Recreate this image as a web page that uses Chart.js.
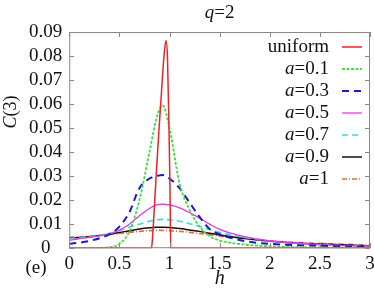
<!DOCTYPE html>
<html>
<head>
<meta charset="utf-8">
<script src="https://cdn.jsdelivr.net/npm/chart.js@4/dist/chart.umd.min.js"></script>
<style>
  html, body { margin: 0; padding: 0; background: #fff; }
  #wrap { width: 374px; height: 297px; }
</style>
</head>
<body>
<div id="wrap"><canvas id="c"></canvas></div>
<script>
// données
const hUniform = [0, 0.82, 0.83, 0.86, 0.89, 0.92, 0.945, 0.965, 0.98, 0.995, 1.005, 1.012, 3];
const cUniform = [0, 0, 0.004, 0.025, 0.046, 0.065, 0.080, 0.0865, 0.079, 0.050, 0.025, 0, 0];

const hGrid = [0, 0.2, 0.4, 0.5, 0.6, 0.7, 0.8, 0.87, 0.93, 1.0, 1.1, 1.2, 1.3, 1.4, 1.5, 1.75, 2, 2.5, 3];
const cA01 = [0, 0, 0.0004, 0.0018, 0.007, 0.020, 0.040, 0.054, 0.0595, 0.050, 0.027, 0.016, 0.009, 0.005, 0.0032, 0.0015, 0.0008, 0.0003, 0.0001];
const cA03 = [0.0018, 0.003, 0.0058, 0.009, 0.015, 0.025, 0.029, 0.030, 0.0305, 0.029, 0.025, 0.019, 0.013, 0.008, 0.0058, 0.003, 0.0018, 0.001, 0.0005];
const cA05 = [0.0033, 0.0045, 0.006, 0.0075, 0.010, 0.0135, 0.0165, 0.018, 0.0183, 0.018, 0.0168, 0.0148, 0.0125, 0.010, 0.0078, 0.0048, 0.003, 0.0015, 0.0008];
const cA07 = [0.004, 0.0048, 0.0062, 0.0072, 0.0088, 0.010, 0.0112, 0.0118, 0.012, 0.0118, 0.0112, 0.0102, 0.009, 0.0078, 0.0066, 0.0045, 0.003, 0.0015, 0.0008];
const cA09 = [0.0042, 0.0048, 0.0058, 0.0065, 0.0073, 0.008, 0.0085, 0.0087, 0.0087, 0.0086, 0.0082, 0.0076, 0.007, 0.0062, 0.0055, 0.004, 0.0029, 0.0017, 0.001];
const cA1 = [0.0045, 0.005, 0.0057, 0.0061, 0.0066, 0.007, 0.0073, 0.0074, 0.0074, 0.0073, 0.007, 0.0066, 0.0061, 0.0056, 0.005, 0.004, 0.003, 0.002, 0.0013];

const legendNames = ['uniform', '0.1', '0.3', '0.5', '0.7', '0.9', '1'];
const xTicks = [0, 0.5, 1, 1.5, 2, 2.5, 3];

const serif = '"Liberation Serif", "DejaVu Serif", serif';

function pts(xs, ys) {
    return xs.map((x, i) => ({ x: x, y: ys[i] }));
}

function serie(xs, ys, color, dash, width) {
    return {
        data: pts(xs, ys),
        borderColor: color,
        borderDash: dash,
        borderWidth: width,
        pointRadius: 0,
        fill: false,
        cubicInterpolationMode: 'monotone'
    };
}

const datasets = [
    serie(hUniform, cUniform, '#ee2222', [], 1.5),
    serie(hGrid, cA01, '#44dd44', [3, 1.5], 1.8),
    serie(hGrid, cA03, '#1a1acc', [7, 5], 2),
    serie(hGrid, cA05, '#ee33ee', [], 1.3),
    serie(hGrid, cA07, '#33dddd', [6, 4], 1.6),
    serie(hGrid, cA09, '#111111', [], 1.5),
    serie(hGrid, cA1, '#ee6633', [5, 2, 1, 2], 1.6)
];

// cadre, graduations vers l'intérieur, légende et textes
const decor = {
    id: 'decor',
    afterDatasetsDraw(chart) {
        const ctx = chart.ctx;
        const a = chart.chartArea;
        const xs = chart.scales.x, ys = chart.scales.y;
        ctx.save();
        ctx.strokeStyle = '#888';
        ctx.lineWidth = 1;
        ctx.strokeRect(a.left + 0.5, a.top + 0.5, a.right - a.left - 1, a.bottom - a.top - 1);
        ctx.beginPath();
        xTicks.forEach(v => {
            const px = Math.round(xs.getPixelForValue(v)) + 0.5;
            ctx.moveTo(px, a.bottom); ctx.lineTo(px, a.bottom - 5);
            ctx.moveTo(px, a.top); ctx.lineTo(px, a.top + 5);
        });
        ys.ticks.forEach(t => {
            const py = Math.round(ys.getPixelForValue(t.value)) + 0.5;
            ctx.moveTo(a.left, py); ctx.lineTo(a.left + 5, py);
            ctx.moveTo(a.right, py); ctx.lineTo(a.right - 5, py);
        });
        ctx.stroke();

        // légende
        ctx.textBaseline = 'middle';
        chart.data.datasets.forEach((ds, i) => {
            const y = a.top + 15 + i * 22;
            const xr = a.right - 41;
            ctx.fillStyle = '#111';
            if (i === 0) {
                ctx.font = '19px ' + serif;
                ctx.textAlign = 'right';
                ctx.fillText(legendNames[0], xr, y);
            } else {
                ctx.font = '19px ' + serif;
                const rest = '=' + legendNames[i];
                const w = ctx.measureText(rest).width;
                ctx.textAlign = 'right';
                ctx.fillText(rest, xr, y);
                ctx.font = 'italic 19px ' + serif;
                ctx.fillText('a', xr - w, y);
            }
            ctx.beginPath();
            ctx.strokeStyle = ds.borderColor;
            ctx.lineWidth = ds.borderWidth;
            ctx.setLineDash(ds.borderDash || []);
            ctx.moveTo(a.right - 28, y);
            ctx.lineTo(a.right - 8, y);
            ctx.stroke();
            ctx.setLineDash([]);
        });

        // titre q=2
        ctx.fillStyle = '#111';
        ctx.textAlign = 'left';
        ctx.font = 'italic 19px ' + serif;
        const wq = ctx.measureText('q').width;
        ctx.font = '19px ' + serif;
        const w2 = ctx.measureText('=2').width;
        const tx = (a.left + a.right) / 2 - (wq + w2) / 2;
        ctx.font = 'italic 19px ' + serif;
        ctx.fillText('q', tx, 13);
        ctx.font = '19px ' + serif;
        ctx.fillText('=2', tx + wq, 13);

        // axe h
        ctx.textAlign = 'center';
        ctx.font = 'italic 20px ' + serif;
        ctx.fillText('h', (a.left + a.right) / 2, 279);

        // (e)
        ctx.font = '19px ' + serif;
        ctx.fillText('(e)', 36, 268);

        // C(3)
        ctx.translate(11, 112);
        ctx.rotate(-Math.PI / 2);
        ctx.font = 'italic 18px ' + serif;
        const wc = ctx.measureText('C').width;
        ctx.font = '18px ' + serif;
        const w3 = ctx.measureText('(3)').width;
        ctx.textAlign = 'left';
        ctx.font = 'italic 18px ' + serif;
        ctx.fillText('C', -(wc + w3) / 2, 0);
        ctx.font = '18px ' + serif;
        ctx.fillText('(3)', -(wc + w3) / 2 + wc, 0);
        ctx.restore();
    }
};

new Chart(document.getElementById('c'), {
    type: 'line',
    data: { datasets: datasets },
    plugins: [decor],
    options: {
        responsive: true,
        maintainAspectRatio: false,
        animation: false,
        layout: { padding: { left: 22, top: 32, right: 4, bottom: 18 } },
        plugins: { legend: { display: false }, tooltip: { enabled: false } },
        scales: {
            x: {
                type: 'linear', min: 0, max: 3,
                grid: { display: false, drawTicks: false },
                border: { display: false },
                afterFit: s => { s.paddingRight = 0; s.paddingLeft = 0; },
                ticks: {
                    stepSize: 0.5, padding: 4, color: '#111', autoSkip: false, maxRotation: 0,
                    font: { family: serif, size: 19 },
                    callback: v => String(v)
                }
            },
            y: {
                min: 0, max: 0.09,
                grid: { display: false, drawTicks: false },
                border: { display: false },
                ticks: {
                    stepSize: 0.01, padding: 7, color: '#111', crossAlign: 'center', autoSkip: false,
                    font: { family: serif, size: 19 },
                    callback: v => v === 0 ? '0' : v.toFixed(2)
                }
            }
        }
    }
});
</script>
</body>
</html>
